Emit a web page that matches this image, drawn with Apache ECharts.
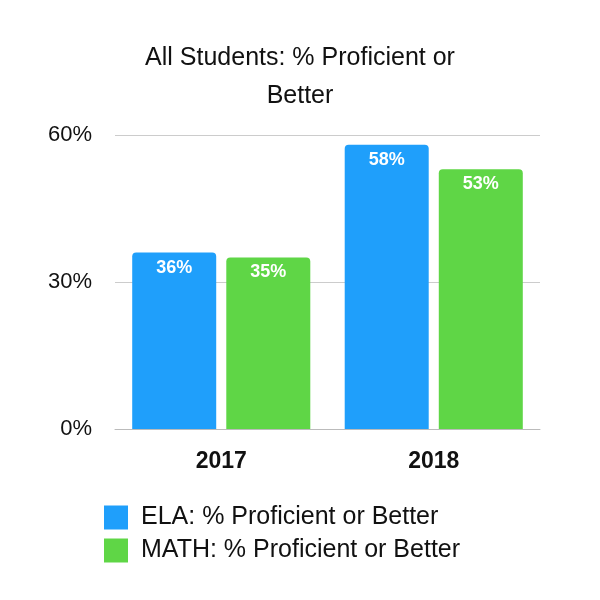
<!DOCTYPE html>
<html>
<head>
<meta charset="utf-8">
<script src="https://cdn.jsdelivr.net/npm/echarts@6/dist/echarts.min.js"></script>
<style>html,body{margin:0;padding:0;background:#fff;}#c{width:600px;height:600px;}</style>
</head>
<body>
<div id="c"></div>
<script>
const categories = ['2017', '2018'];
const elaValues = [36, 58];
const mathValues = [35, 53];
const seriesNames = ['ELA: % Proficient or Better', 'MATH: % Proficient or Better'];
const yTicks = [0, 30, 60];

const chart = echarts.init(document.getElementById('c'));
const font = '"Liberation Sans", Arial, Helvetica, sans-serif';
const labelCfg = {
  show: true, position: 'insideTop', distance: 6,
  color: '#fff', fontWeight: 'bold', fontSize: 18, fontFamily: font,
  formatter: p => p.value + '%'
};
chart.setOption({
  animation: false,
  title: {
    text: 'All Students: % Proficient or\nBetter',
    left: 'center', top: 34,
    textStyle: { fontSize: 25, fontWeight: 'normal', color: '#111', fontFamily: font, lineHeight: 38 }
  },
  grid: { left: 115, right: 60, top: 135, bottom: 171 },
  legend: {
    orient: 'vertical', left: 99, top: 500,
    itemWidth: 24, itemHeight: 24, itemGap: 8,
    icon: 'rect',
    textStyle: { fontSize: 25, color: '#111', fontFamily: font, padding: [0, 0, 0, 8] },
    data: seriesNames
  },
  xAxis: {
    type: 'category', data: categories,
    axisLine: { lineStyle: { color: '#bbb' } },
    axisTick: { show: false },
    axisLabel: { fontSize: 23, fontWeight: 'bold', color: '#111', fontFamily: font, margin: 21 }
  },
  yAxis: {
    type: 'value', min: yTicks[0], max: yTicks[yTicks.length - 1], interval: 30,
    axisLine: { show: false }, axisTick: { show: false },
    splitLine: { lineStyle: { color: '#ccc' } },
    axisLabel: { fontSize: 22, color: '#111', fontFamily: font, margin: 23, formatter: v => v + '%' }
  },
  series: [
    { name: seriesNames[0], type: 'bar', data: elaValues, barWidth: 84, barGap: '12%',
      itemStyle: { color: '#1f9ffb', borderRadius: [4, 4, 0, 0] }, label: labelCfg },
    { name: seriesNames[1], type: 'bar', data: mathValues, barWidth: 84,
      itemStyle: { color: '#5fd646', borderRadius: [4, 4, 0, 0] }, label: labelCfg }
  ]
});
</script>
</body>
</html>
